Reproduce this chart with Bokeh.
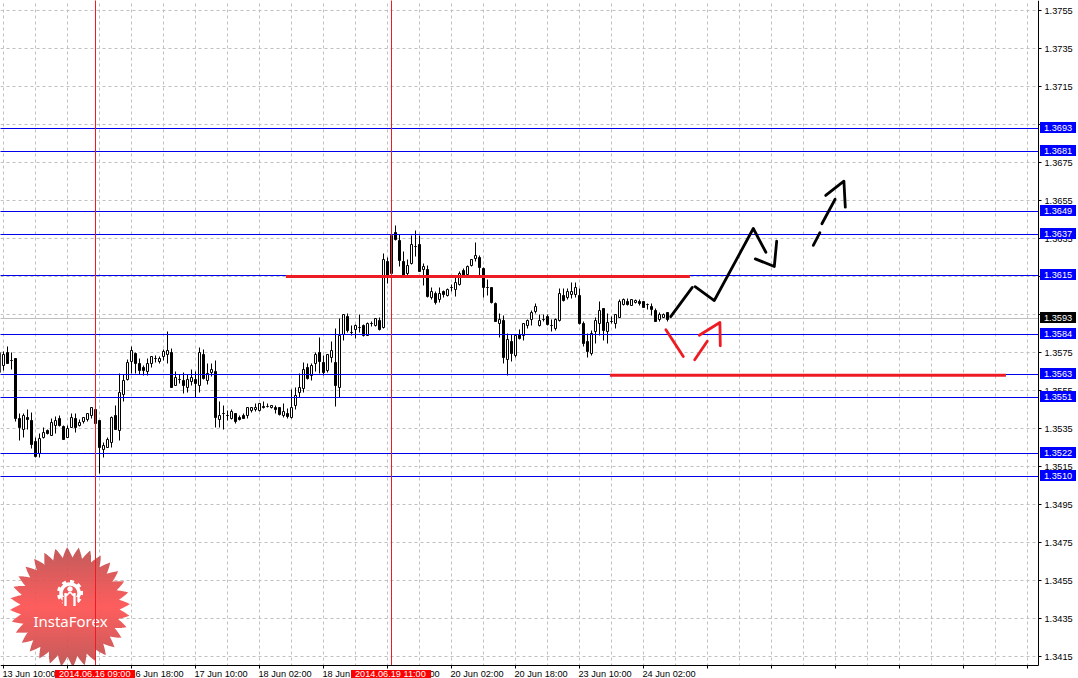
import numpy as np
from bokeh.plotting import figure
from bokeh.models import Range1d, FixedTicker, NumeralTickFormatter
from bokeh.core.properties import value
from bokeh.embed import file_html
from bokeh.resources import INLINE

# ---- candles (prices in points, 1e-5), first bar index is -1 ----
first_bar = -1
open_pts = [
135747,135679,135747,135705,135716,135400,135342,135405,135389,135279,
135216,135300,135337,135311,135363,135400,135357,135300,135352,135400,
135363,135384,135395,135416,135448,135389,135237,135247,135273,135416,
135337,135526,135606,135700,135742,135689,135668,135648,135689,135716,
135700,135726,135737,135747,135574,135606,135600,135563,135595,135606,
135574,135737,135600,135642,135648,135395,135426,135416,135400,135426,
135405,135416,135416,135442,135448,135442,135463,135463,135458,135458,
135458,135416,135426,135405,135469,135536,135558,135668,135627,135689,
135747,135694,135653,135721,135694,135563,135842,135936,135852,135869,
135879,135890,135837,135900,135890,135916,135879,136227,136163,136378,
136337,136227,136163,136216,136305,136316,136185,136185,136037,136058,
136027,136069,136048,136089,136079,136105,136179,136158,136206,136242,
136247,136190,136089,136089,136005,135900,135916,135711,135806,135732,
135842,135837,135890,135921,135963,135890,135921,135936,135890,135874,
135916,136048,136037,136053,136053,136048,135900,135806,135742,135858,
135900,135979,135858,135911,135900,135931,136000,136016,135995,136010,
136016,136016,136000,135989,135968,135921,135931,135957]
high_pts = [
135758,135753,135779,135747,135716,135426,135426,135448,135431,135300,
135321,135352,135342,135400,135410,135416,135363,135363,135426,135426,
135395,135405,135426,135458,135448,135389,135273,135300,135410,135469,
135637,135632,135711,135779,135747,135716,135679,135716,135726,135732,
135726,135764,135858,135769,135648,135632,135642,135632,135658,135648,
135774,135764,135689,135689,135705,135490,135469,135442,135448,135426,
135416,135426,135458,135458,135479,135479,135490,135479,135469,135469,
135458,135479,135453,135553,135563,135637,135694,135689,135689,135747,
135826,135732,135737,135806,135874,135926,135947,135952,135890,135895,
135947,135895,135905,135911,135926,135931,136268,136247,136373,136416,
136368,136279,136237,136363,136389,136363,136216,136206,136089,136069,
136089,136074,136084,136105,136142,136174,136190,136206,136237,136326,
136258,136195,136132,136089,136010,135952,135942,135847,135842,135842,
135869,135900,135921,135968,136005,135947,135947,135947,135921,135926,
136084,136084,136084,136115,136115,136084,135911,135847,135863,135931,
136016,135979,135952,135936,135947,136027,136032,136032,136027,136027,
136027,136016,136005,136005,135979,135957,135952,135957]
low_pts = [
135595,135653,135689,135658,135384,135284,135300,135342,135242,135195,
135195,135295,135316,135311,135321,135357,135290,135300,135352,135326,
135357,135373,135384,135400,135337,135110,135195,135247,135247,135342,
135284,135490,135600,135637,135637,135632,135627,135627,135668,135694,
135689,135705,135689,135563,135574,135584,135531,135536,135574,135510,
135536,135606,135579,135621,135352,135352,135342,135389,135395,135373,
135389,135400,135400,135431,135437,135437,135453,135458,135453,135426,
135416,135405,135400,135400,135448,135510,135536,135606,135600,135648,
135637,135627,135642,135694,135463,135510,135811,135852,135837,135821,
135852,135831,135837,135884,135884,135863,135874,136110,136153,136337,
136200,136142,136153,136211,136252,136174,136100,136037,136027,136000,
136010,136037,136042,136069,136042,136100,136153,136153,136200,136227,
136153,136037,136048,136005,135911,135826,135689,135627,135700,135721,
135816,135811,135874,135890,135952,135884,135911,135890,135858,135863,
135911,136016,136027,136032,136037,135895,135779,135721,135732,135795,
135837,135811,135795,135900,135874,135931,135995,135995,135995,136005,
135995,135984,135974,135942,135911,135911,135931,135911]
close_pts = [
135642,135737,135689,135705,135400,135352,135416,135395,135263,135200,
135295,135326,135321,135378,135389,135363,135290,135347,135405,135352,
135378,135405,135426,135458,135373,135247,135258,135290,135405,135342,
135536,135600,135694,135758,135689,135653,135653,135689,135726,135716,
135716,135753,135758,135563,135616,135606,135574,135606,135616,135584,
135747,135611,135637,135658,135405,135416,135426,135416,135437,135384,
135395,135400,135458,135458,135458,135479,135458,135463,135469,135448,
135421,135437,135410,135458,135521,135563,135658,135611,135679,135737,
135700,135642,135737,135758,135574,135837,135947,135863,135852,135890,
135879,135837,135900,135900,135926,135869,136237,136153,136363,136342,
136232,136153,136206,136316,136305,136174,136200,136042,136069,136010,
136058,136053,136079,136089,136115,136163,136153,136200,136237,136258,
136195,136089,136089,136010,135911,135921,135721,135816,135742,135837,
135821,135900,135916,135957,135989,135916,135921,135895,135890,135921,
136058,136021,136069,136069,136089,135900,135795,135753,135847,135916,
135968,135863,135905,135911,135947,136016,136027,136000,136027,136021,
136005,135984,136000,135974,135911,135947,135947,135921]

# ---- horizontal levels ----
level_pts    = [136926,136805,136489,136368,136153,135842,135632,135510,135216,135095]
level_labels = ["1.3693","1.3681","1.3649","1.3637","1.3615","1.3584","1.3563","1.3551","1.3522","1.3510"]
bid_pts = 135926
bid_label = "1.3593"

# ---- axes ----
price_ticks = [1.37547 - 0.002*k for k in range(18)]
time_tick_bars = [16*k for k in range(17)]
grid_bars = [8*k for k in range(33)]
time_labels = ["13 Jun 10:00","16 Jun 02:00","16 Jun 18:00","17 Jun 10:00","18 Jun 02:00",
               "18 Jun 18:00","19 Jun 10:00","20 Jun 02:00","20 Jun 18:00","23 Jun 10:00","24 Jun 02:00"]
cross_bars = [23, 97]
cross_labels = ["2014.06.16 09:00", "2014.06.19 11:00"]

# ---- hand drawn marks (bar index, points) ----
black_x = [[166.8,172.2],[172.9,177.7,187.45,190.6],[187.95,192.7,193.3],[202.45,204.1],[204.6,207.9],[205.55,210.1,210.45]]
black_y = [[135936,136090],[136094,136021,136400,136275],[136240,136200,136333],[136311,136378],[136425,136554],[136574,136649,136512]]
red_x = [[165.6,169.95],[172.8,175.95],[173.95,179.1,179.2]]
red_y = [[135867,135726],[135709,135807],[135838,135905,135783]]
red_h_x = [[70.6,171.6],[151.6,250.6]]
red_h_y = [[136147,136147],[135627,135627]]

PX = 19000.0
TOP0 = 1.3760
W, H = 1078, 678
CHART_W, CHART_H = 1038, 665
FONT = "Liberation Sans"
FS = "9.2px"
BLUE = "#0000ee"
RED = "#ed1c24"
GRID = "#c0c0c0"

def snap(v):
    v = np.asarray(v, dtype=float)
    return TOP0 - np.round((TOP0 - v)*PX)/PX
def pts(a):
    return snap(np.asarray(a, dtype=float)/1e5)
def bar_at(px):
    return (px - 3.0)/4.0
def price_at(py):
    return TOP0 - py/PX

p = figure(width=W, height=H, frame_width=W, frame_height=H,
           output_backend="svg", toolbar_location=None, y_axis_location="right",
           x_range=Range1d(bar_at(0), bar_at(W)),
           y_range=Range1d(price_at(H), price_at(0)),
           min_border=0, min_border_left=0, min_border_right=0, min_border_top=0, min_border_bottom=0,
           outline_line_color=None, background_fill_color="white", border_fill_color="white",
           styles={"position":"absolute","left":"0px","top":"0px"})

snapped_ticks = [float(t) for t in snap(price_ticks)]
p.yaxis.ticker = FixedTicker(ticks=snapped_ticks)
p.yaxis.formatter = NumeralTickFormatter(format="0.0000")
p.yaxis.fixed_location = bar_at(CHART_W)
p.yaxis.bounds = (price_at(CHART_H), price_at(0))
p.yaxis.major_tick_in = 0
p.yaxis.major_tick_out = 3
p.yaxis.minor_tick_line_color = None
p.yaxis.major_label_standoff = 3
p.yaxis.major_label_text_font = FONT
p.yaxis.major_label_text_font_size = FS
p.yaxis.major_label_text_color = "black"
p.yaxis.axis_line_color = "black"
p.yaxis.major_tick_line_color = "black"

p.xaxis.ticker = FixedTicker(ticks=time_tick_bars)
p.xaxis.fixed_location = price_at(CHART_H)
p.xaxis.bounds = (bar_at(0), bar_at(CHART_W))
p.xaxis.major_tick_in = 0
p.xaxis.major_tick_out = 3
p.xaxis.minor_tick_line_color = None
p.xaxis.major_label_overrides = {t: "" for t in time_tick_bars}
p.xaxis.axis_line_color = "black"
p.xaxis.major_tick_line_color = "black"

p.xgrid.ticker = FixedTicker(ticks=grid_bars)
p.ygrid.ticker = FixedTicker(ticks=snapped_ticks)
for g in (p.xgrid, p.ygrid):
    g.grid_line_color = GRID
    g.grid_line_dash = "3 3"
    g.grid_line_width = 1

# white margins around the chart area (grid stops there)
p.quad(left=[bar_at(CHART_W), bar_at(0)], right=[bar_at(W), bar_at(W)],
       top=[price_at(0), price_at(CHART_H)], bottom=[price_at(H), price_at(H)],
       fill_color="white", line_color=None)

# logo raster (badge only; the text is real text)
L_X0, L_Y0, L_W, L_H = 8, 545, 124, 120
SS = 3
yy, xx = np.mgrid[0:L_H*SS, 0:L_W*SS]
px = L_X0 + (xx + 0.5)/SS
py = L_Y0 + (yy + 0.5)/SS
cx, cy = 70.0, 607.0
dx, dy = px - cx, py - cy
r = np.hypot(dx, dy)
th = np.arctan2(dy, dx)
teeth = 32
tri = np.abs(((th/(2*np.pi)*teeth + 0.25) % 1.0) - 0.5)*2
star = r <= 49.5 + 10.5*tri
t = np.clip(np.abs(dy)/60.0, 0, 1)
R = 255 - 65*t
G = 82 - 2*t
B = 82 - 2*t
# gear
gx, gy = 70.0, 593.0
ex, ey = px - gx, py - gy
gr = np.hypot(ex, ey)
gth = np.arctan2(ey, ex)
gteeth = ((gth/(2*np.pi)*9 + 0.25) % 1.0) < 0.5
ring = ((gr <= 10.8) | ((gr <= 13) & gteeth)) & (gr >= 7.2) & ~((ey > 4) & (np.abs(ex) < 7.5))
dot = np.hypot(ex, ey + 4) <= 2.7
bars = (np.abs(ex) >= 3.5) & (np.abs(ex) <= 5.6) & (ey >= 0) & (ey <= 13)
vee = (np.abs(np.abs(ex) - np.clip(ey + 1, 0, 4.5)) < 1.1) & (ey >= -1) & (ey <= 4)
gear = ring | dot | bars | vee
R = np.where(gear, 255, R); G = np.where(gear, 255, G); B = np.where(gear, 255, B)
A = np.where(star, 0.93, 0.0)
def down(a):
    return a.reshape(L_H, SS, L_W, SS).mean(axis=(1, 3))
Aa = down(A)
safe = np.maximum(Aa, 1e-6)
img = np.zeros((L_H, L_W), dtype=np.uint32)
view = img.view(np.uint8).reshape(L_H, L_W, 4)
view[..., 0] = np.clip(down(R*A)/safe, 0, 255).astype(np.uint8)
view[..., 1] = np.clip(down(G*A)/safe, 0, 255).astype(np.uint8)
view[..., 2] = np.clip(down(B*A)/safe, 0, 255).astype(np.uint8)
view[..., 3] = (Aa*255).astype(np.uint8)
p.image_rgba(image=[np.flipud(img)], x=bar_at(L_X0 - 0.5), y=price_at(L_Y0 + L_H - 0.5),
             dw=L_W/4.0, dh=L_H/PX)
p.text(x=[bar_at(70)], y=[price_at(620)], text=["InstaForex"], text_color="white",
       text_font=value("Noto Sans"), text_font_size="15px", text_align="center", text_baseline="middle")

x_left, x_right = bar_at(-1), bar_at(CHART_W)

# bid line below candles
bid_y = float(pts([bid_pts])[0])
p.segment(x0=[x_left], y0=[bid_y], x1=[x_right], y1=[bid_y], line_color=GRID, line_width=1)

# candles
o, h, l, c = pts(open_pts), pts(high_pts), pts(low_pts), pts(close_pts)
bars_i = np.arange(first_bar, first_bar + len(open_pts))
up = np.array(close_pts) > np.array(open_pts)
p.segment(x0=bars_i, y0=h, x1=bars_i, y1=l, line_color="black", line_width=1)
p.vbar(x=bars_i, width=0.5, top=np.maximum(o, c), bottom=np.minimum(o, c),
       fill_color=np.where(up, "white", "black").tolist(), line_color="black", line_width=1)

# levels and crosshair lines
lv = pts(level_pts)
p.segment(x0=[x_left]*len(lv), y0=lv, x1=[x_right]*len(lv), y1=lv, line_color=BLUE, line_width=1)
p.segment(x0=cross_bars, y0=[price_at(-1)]*2, x1=cross_bars, y1=[price_at(CHART_H)]*2, line_color=RED, line_width=1)

# drawn lines
p.multi_line(xs=red_h_x, ys=[(np.array(v)/1e5).tolist() for v in red_h_y], line_color=RED, line_width=3)
p.multi_line(xs=black_x, ys=[(np.array(v)/1e5).tolist() for v in black_y], line_color="black",
             line_width=2.8, line_join="round", line_cap="round")
p.multi_line(xs=red_x, ys=[(np.array(v)/1e5).tolist() for v in red_y], line_color=RED,
             line_width=2.8, line_join="round", line_cap="round")

# time labels (left aligned at their ticks)
mid_time = price_at(673.5)
ann = dict(text_font=value(FONT), text_font_size=FS, text_align="left", text_baseline="middle", level="annotation")
p.text(x=[16.0*k - 0.25 for k in range(len(time_labels))], y=[mid_time]*len(time_labels),
       text=time_labels, text_color="black", **ann)

# crosshair date tags
cols = [3 + 4*b for b in cross_bars]
p.quad(left=[bar_at(c_ - 40.5) for c_ in cols], right=[bar_at(c_ + 39.5) for c_ in cols],
       top=[price_at(669.5)]*2, bottom=[price_at(H)]*2,
       fill_color="#ff0000", line_color=None, level="annotation")
p.text(x=[bar_at(c_ - 36.5) for c_ in cols], y=[mid_time]*2, text=cross_labels,
       text_color="white", **ann)

# price tags
tag_vals = [float(v) for v in lv] + [bid_y]
tag_text = level_labels + [bid_label]
tag_fill = ["#0000ff"]*len(lv) + ["black"]
p.quad(left=[bar_at(1039.5)]*len(tag_vals), right=[bar_at(1075.5)]*len(tag_vals),
       top=[v + 6.5/PX for v in tag_vals], bottom=[v - 4.5/PX for v in tag_vals],
       fill_color=tag_fill, line_color=None, level="annotation")
p.text(x=[bar_at(1043.5)]*len(tag_vals), y=[v + 0.8/PX for v in tag_vals], text=tag_text,
       text_color="white", **ann)

open("out.html", "w").write(file_html(p, INLINE))
